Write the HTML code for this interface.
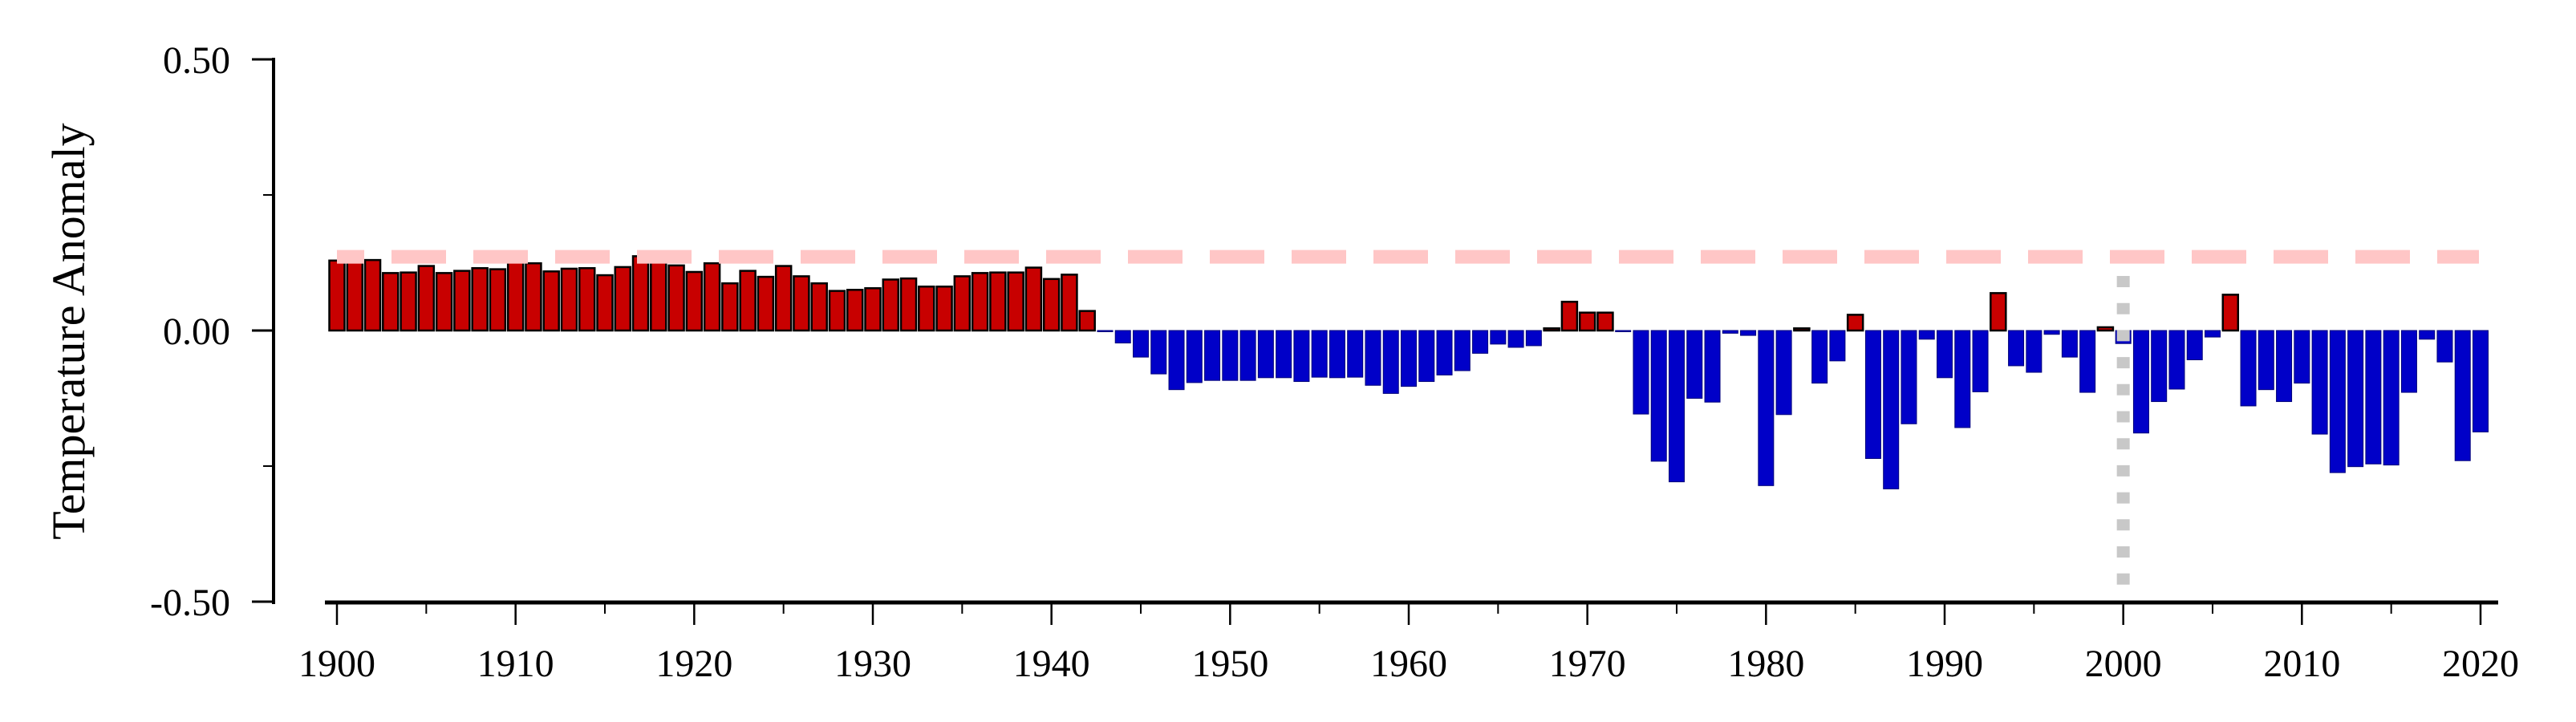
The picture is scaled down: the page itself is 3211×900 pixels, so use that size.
<!DOCTYPE html>
<html><head><meta charset="utf-8"><style>
html,body{margin:0;padding:0;background:#fff;}
svg{display:block;font-family:"Liberation Serif",serif;}
</style></head><body>
<svg id="chart" width="3211" height="900" viewBox="0 0 3211 900">
<g id="bars"></g>
<line id="refline" stroke="#ffc6c6" stroke-width="17" stroke-dasharray="68 34" stroke-dashoffset="34"/>
<line id="vline" stroke="#c8c8c8" stroke-width="16" stroke-dasharray="14 19.7"/>
<g id="axes"></g>
<text transform="translate(105,413) rotate(-90)" text-anchor="middle" font-size="58" fill="#000">Temperature Anomaly</text>
</svg>
<script>
const years = [];
for (let y = 1900; y <= 2020; y++) years.push(y);
const anomalies = [
0.129,0.129,0.130,0.106,0.107,0.119,0.106,0.110,0.115,0.113,
0.129,0.124,0.109,0.114,0.115,0.102,0.117,0.137,0.129,0.120,
0.108,0.124,0.087,0.110,0.099,0.119,0.100,0.087,0.073,0.075,
0.078,0.094,0.096,0.081,0.081,0.100,0.106,0.107,0.107,0.116,
0.095,0.103,0.036,-0.001,-0.023,-0.049,-0.080,-0.109,-0.096,-0.092,
-0.092,-0.092,-0.087,-0.087,-0.094,-0.086,-0.087,-0.086,-0.101,-0.116,
-0.103,-0.094,-0.082,-0.074,-0.042,-0.025,-0.031,-0.028,0.004,0.053,
0.033,0.033,-0.001,-0.154,-0.241,-0.279,-0.125,-0.132,-0.005,-0.009,
-0.286,-0.155,0.004,-0.097,-0.056,0.029,-0.236,-0.292,-0.172,-0.016,
-0.087,-0.179,-0.113,0.069,-0.065,-0.077,-0.007,-0.049,-0.114,0.006,
-0.024,-0.189,-0.131,-0.108,-0.054,-0.012,0.066,-0.139,-0.109,-0.131,
-0.097,-0.191,-0.262,-0.251,-0.246,-0.248,-0.114,-0.016,-0.058,-0.240,
-0.187];
const yTickValues = [0.5, 0.0, -0.5];
const yTickLabels = ["0.50", "0.00", "-0.50"];
const yMinorTicks = [0.25, -0.25];
const xTickYears = [1900,1910,1920,1930,1940,1950,1960,1970,1980,1990,2000,2010,2020];
const xMinorYears = [1905,1915,1925,1935,1945,1955,1965,1975,1985,1995,2005,2015];
const referenceValue = 0.136;
const markerYear = 2000;

const NS = "http://www.w3.org/2000/svg";
const X0 = 420, PX_PER_YEAR = (3092 - 420) / 120;
const Y0 = 412, PX_PER_UNIT = 676;
function xScale(yr){ return X0 + (yr - 1900) * PX_PER_YEAR; }
function yScale(v){ return Y0 - v * PX_PER_UNIT; }
function mk(tag, attrs, parent){
  const el = document.createElementNS(NS, tag);
  for (const k in attrs) el.setAttribute(k, attrs[k]);
  parent.appendChild(el);
  return el;
}
const barsG = document.getElementById("bars");
const bw = 19;
years.forEach((yr, i) => {
  const v = anomalies[i];
  const top = Math.min(yScale(v), Y0), h = Math.max(Math.abs(yScale(v) - Y0), 1.5);
  const pos = v >= 0;
  const r = mk("rect", {x: xScale(yr) - bw/2, y: top, width: bw, height: h,
    fill: pos ? "#c80000" : "#0000c8", stroke: pos ? "#000" : "#00007a",
    "stroke-width": pos ? 2.5 : 1}, barsG);
  
  
});
const ref = document.getElementById("refline");
ref.setAttribute("x1", xScale(1900)); ref.setAttribute("x2", 3090);
ref.setAttribute("y1", yScale(referenceValue)); ref.setAttribute("y2", yScale(referenceValue));
const vl = document.getElementById("vline");
vl.setAttribute("x1", xScale(markerYear)); vl.setAttribute("x2", xScale(markerYear));
vl.setAttribute("y1", 344); vl.setAttribute("y2", 736);

const ax = document.getElementById("axes");
const ya = mk("line", {x1: 341, x2: 341, y1: 72, y2: 753, stroke: "#000", "stroke-width": 4}, ax);


const xa = mk("line", {x1: 405, x2: 3114, y1: 751, y2: 751, stroke: "#000", "stroke-width": 5}, ax);


yTickValues.forEach((v, i) => {
  const t = mk("line", {x1: 314, x2: 341, y1: yScale(v), y2: yScale(v), stroke: "#000", "stroke-width": 3}, ax);
  
  
  const lb = mk("text", {x: 287, y: yScale(v) + 17, "text-anchor": "end", "font-size": 48, fill: "#000"}, ax);
  lb.textContent = yTickLabels[i];
  
  
});
yMinorTicks.forEach(v => {
  const t = mk("line", {x1: 328, x2: 341, y1: yScale(v), y2: yScale(v), stroke: "#000", "stroke-width": 2}, ax);
  
  
});
xTickYears.forEach(yr => {
  const t = mk("line", {x1: xScale(yr), x2: xScale(yr), y1: 751, y2: 779, stroke: "#000", "stroke-width": 2.5}, ax);
  
  
  const lb = mk("text", {x: xScale(yr), y: 843, "text-anchor": "middle", "font-size": 48, fill: "#000"}, ax);
  lb.textContent = String(yr);
  
  
});
xMinorYears.forEach(yr => {
  const t = mk("line", {x1: xScale(yr), x2: xScale(yr), y1: 751, y2: 765, stroke: "#000", "stroke-width": 2}, ax);
  
  
});
</script>
</body></html>
